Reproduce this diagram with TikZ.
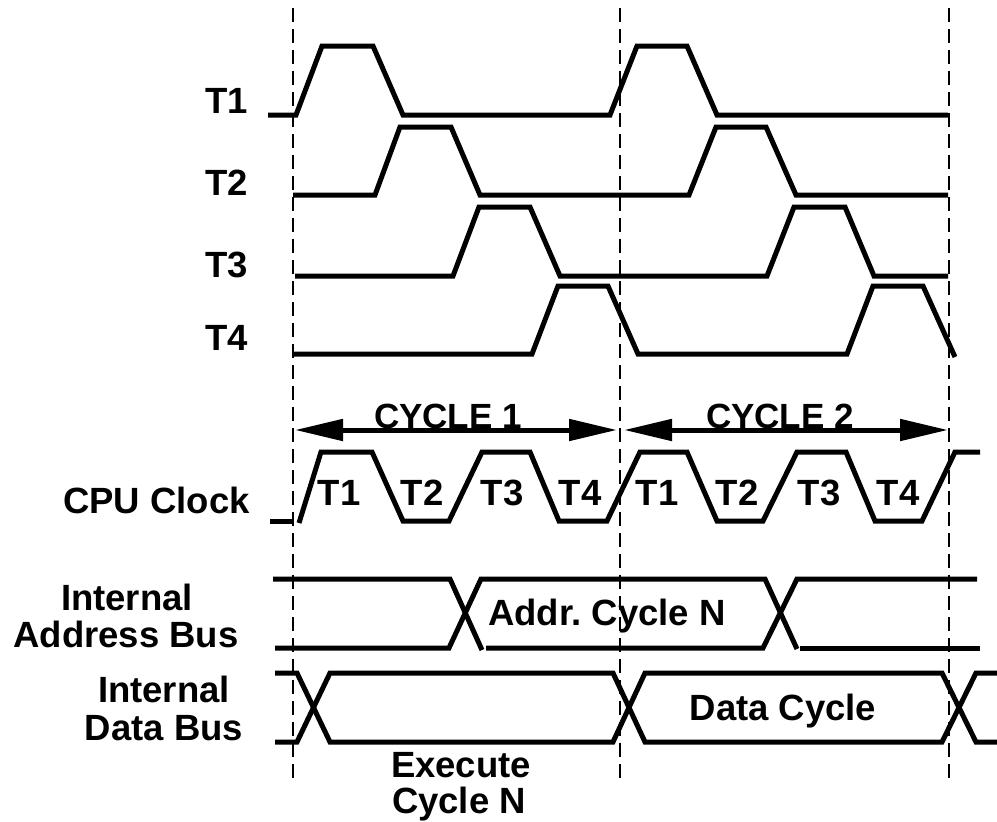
\documentclass[tikz,border=0pt]{standalone}
\usepackage{fontspec}
\setmainfont{Liberation Sans}
\usetikzlibrary{arrows.meta}
\tikzset{
  wave/.style={line width=5pt, line join=miter, line cap=butt},
  guide/.style={line width=2.2pt, dash pattern=on 14pt off 7pt},
  lbl/.style={inner sep=0pt, font=\fontsize{36.5}{37}\selectfont\bfseries},
  cyc/.style={line width=5pt, {Triangle[length=48pt,width=21pt]}-{Triangle[length=48pt,width=21pt]}},
}
\begin{document}
\frenchspacing
\begin{tikzpicture}[x=1pt,y=-1pt]
\path[use as bounding box] (0,0) rectangle (997,822);
% guide lines
\coordinate (g1t) at (293,8);  \coordinate (g1b) at (293,782);
\coordinate (g2t) at (620,8);  \coordinate (g2b) at (620,782);
\coordinate (g3t) at (949,8);  \coordinate (g3b) at (949,782);
\draw[guide] (g1t) -- (g1b);
\draw[guide] (g2t) -- (g2b);
\draw[guide] (g3t) -- (g3b);
% phase waveforms
\draw[wave] (268,115)--(296,115)--(322,46)--(373,46)--(403,115)--(610,115)--(637,46)--(687,46)--(717,115)--(948,115);
\draw[wave] (293,195)--(375,195)--(400,127)--(451,127)--(480,195)--(689,195)--(716,127)--(766,127)--(796,195)--(948,195);
\draw[wave] (295,276)--(453,276)--(479,207)--(530,207)--(560,276)--(767,276)--(794,207)--(845,207)--(874,276)--(948,276);
\draw[wave] (293,354)--(532,354)--(558,286)--(608,286)--(638,354)--(847,354)--(873,286)--(923,286)--(955,357);
% labels
\node[lbl,anchor=base east] (lt1) at (248,113) {T1};
\node[lbl,anchor=base east] (lt2) at (248,195) {T2};
\node[lbl,anchor=base east] (lt3) at (248,277) {T3};
\node[lbl,anchor=base east] (lt4) at (248,350) {T4};
% cycle arrows
\coordinate (c1a) at (295,430); \coordinate (c1b) at (617,430);
\coordinate (c2a) at (624,430); \coordinate (c2b) at (948,430);
\draw[cyc] (c1a) -- (c1b);
\draw[cyc] (c2a) -- (c2b);
\node[lbl,anchor=base,font=\fontsize{35}{36}\selectfont\bfseries] (cy1) at (448,428) {CYCLE 1};
\node[lbl,anchor=base,font=\fontsize{35}{36}\selectfont\bfseries] (cy2) at (780,428) {CYCLE 2};
% CPU clock
\node[lbl,anchor=base east] (cpu) at (250,513) {CPU Clock};
\draw[wave] (270,521)--(293,521);
\draw[wave] (299,523)--(321,452)--(372,452)--(403,521)--(449,521)--(482,452)--(530,452)--(559,521)--(607,521)--(640,452)--(687,452)--(717,521)--(763,521)--(797,452)--(846,452)--(875,521)--(922,521)--(955,452)--(980,452);
\node[lbl,anchor=base] (k1) at (339,505) {T1};
\node[lbl,anchor=base] (k2) at (422,505) {T2};
\node[lbl,anchor=base] (k3) at (502,505) {T3};
\node[lbl,anchor=base] (k4) at (580,505) {T4};
\node[lbl,anchor=base] (k5) at (657,505) {T1};
\node[lbl,anchor=base] (k6) at (737,505) {T2};
\node[lbl,anchor=base] (k7) at (819,505) {T3};
\node[lbl,anchor=base] (k8) at (898,505) {T4};
% address bus
\node[lbl,anchor=base] (ia1) at (127,610) {Internal};
\node[lbl,anchor=base] (ia2) at (126,647) {Address Bus};
\draw[wave] (273,579)--(450,579)--(482,650);
\draw[wave] (275,648)--(449,648)--(481,579)--(765,579)--(797,649);
\draw[wave] (486,648)--(763,648)--(797,579)--(977,579);
\draw[wave] (800,648)--(980,648);
\node[lbl,anchor=base] (addr) at (607,625) {Addr.\ Cycle N};
% data bus
\node[lbl,anchor=base] (id1) at (164,702) {Internal};
\node[lbl,anchor=base] (id2) at (164,740) {Data Bus};
\draw[wave] (275,673)--(297,673)--(330,742)--(613,742)--(645,673)--(942,673)--(976,742)--(997,742);
\draw[wave] (275,742)--(297,742)--(330,673)--(613,673)--(645,742)--(942,742)--(976,673)--(997,673);
\node[lbl,anchor=base] (dat) at (783,720) {Data Cycle};
\node[lbl,anchor=base] (ex1) at (461,777) {Execute};
\node[lbl,anchor=base] (ex2) at (459,813) {Cycle N};
\end{tikzpicture}
\end{document}
